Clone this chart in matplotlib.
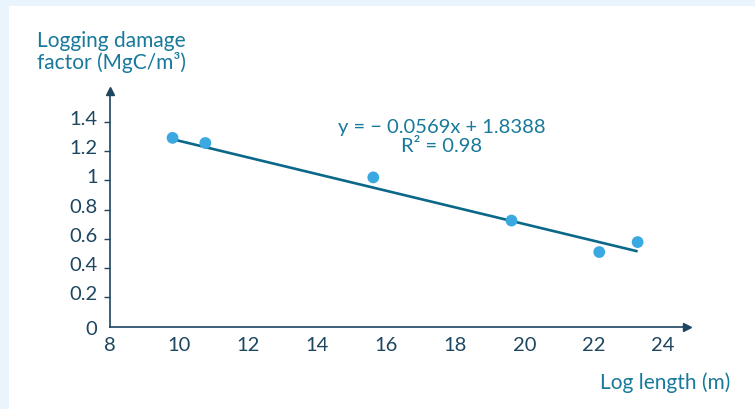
import matplotlib.pyplot as plt
from matplotlib.patches import Rectangle
from matplotlib.transforms import ScaledTranslation

log_length = [9.81, 10.76, 15.62, 19.62, 22.16, 23.27]
damage_factor = [1.29, 1.255, 1.02, 0.725, 0.51, 0.578]
slope = -0.0569
intercept = 1.8388
r2 = 0.98
yticks = [0, 0.2, 0.4, 0.6, 0.8, 1, 1.2, 1.4]
ytick_labels = ['0', '0.2', '0.4', '0.6', '0.8', '1', '1.2', '1.4']
xticks = [8, 10, 12, 14, 16, 18, 20, 22, 24]

plt.rcParams['font.family'] = ['Lato', 'DejaVu Sans']

navy = '#1d4660'
teal = '#18799a'
dot = '#3aa9e1'
line_col = '#0b6889'

fig = plt.figure(figsize=(7.55, 4.1), dpi=100)
fig.patch.set_facecolor('#e9f4fc')
fig.patches.append(Rectangle((9 / 755, 0), 1, 403 / 410, transform=fig.transFigure,
                             facecolor='white', edgecolor='none', zorder=-5))

ax = fig.add_axes([0.1457, 0.2007, 0.9095 - 0.1457, 0.7763 - 0.2007])
ax.set_zorder(2)
ax.set_facecolor('none')
ax.set_xlim(8, 24.69)
ax.set_ylim(0, 1.612)

# trend line from the fitted equation
x0, x1 = min(log_length), max(log_length)
ax.plot([x0, x1], [slope * x0 + intercept, slope * x1 + intercept],
        color=line_col, lw=1.9, solid_capstyle='butt', zorder=2)
ax.scatter(log_length, damage_factor, s=72, color=dot, edgecolor='none', zorder=3)

for s in ['top', 'right']:
    ax.spines[s].set_visible(False)
for s in ['left', 'bottom']:
    ax.spines[s].set_color(navy)
    ax.spines[s].set_linewidth(1.2)
ax.plot(1, 0, '>', color=navy, ms=6, transform=ax.transAxes, clip_on=False)
ax.plot(0, 1, '^', color=navy, ms=6, transform=ax.transAxes, clip_on=False)

ax.set_xticks(xticks)
ax.set_xticklabels([str(t) for t in xticks])
ax.set_yticks(yticks)
ax.set_yticklabels(ytick_labels)
ax.tick_params(axis='x', length=0, pad=7, labelsize=14.5, labelcolor=navy)
ax.tick_params(axis='y', length=4, width=1, color=navy, pad=5, labelsize=14.5, labelcolor=navy)
ax.yaxis.get_major_ticks()[0].tick1line.set_visible(False)
up = ScaledTranslation(0, 5 / 100, fig.dpi_scale_trans)
for lab in ax.get_yticklabels()[1:]:
    lab.set_transform(lab.get_transform() + up)

fig.text(37 / 755, 1 - 31 / 410, 'Logging damage\nfactor (MgC/m³)', color=teal,
         fontsize=15, ha='left', va='top', linespacing=1.05)
fig.text(730 / 755, 1 - 383 / 410, 'Log length (m)', color=teal,
         fontsize=15, ha='right', va='center')
fig.text(442 / 755, 1 - 137 / 410, f'y = − {abs(slope)}x + {intercept}\nR² = {r2}',
         color=teal, fontsize=14.5, ha='center', va='center', linespacing=1.1)

fig.savefig('out.png', dpi=100, facecolor=fig.get_facecolor())
